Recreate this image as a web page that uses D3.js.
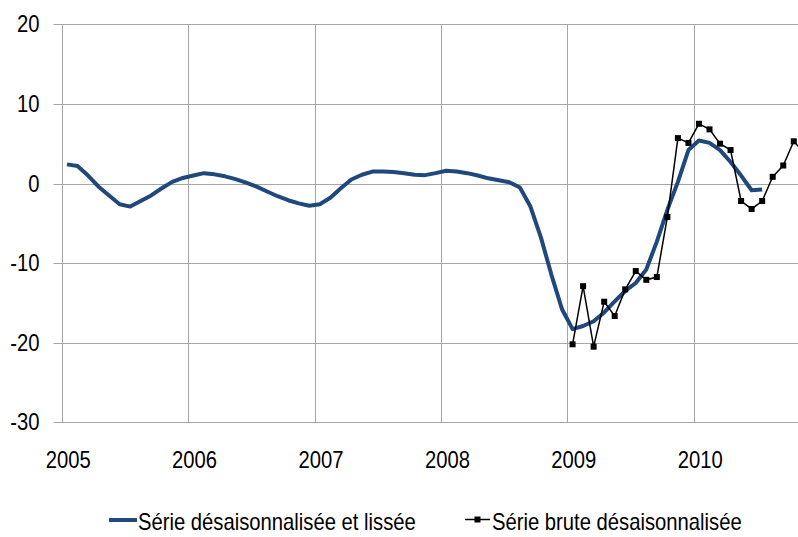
<!DOCTYPE html>
<html>
<head>
<meta charset="utf-8">
<title>Série désaisonnalisée</title>
<script src="https://d3js.org/d3.v7.min.js"></script>
<style>
  body { margin: 0; background: #fff; }
  text { font-family: "Liberation Sans Narrow", "Arial Narrow", "Liberation Sans", sans-serif; fill: #000; font-size: 23px; }
</style>
</head>
<body>
<div id="vis"></div>
<script>
// monthly values, starting january 2005
const startYear = 2005;
const smoothed = [
  2.4, 2.2, 1.0, -0.4, -1.5, -2.6, -2.9, -2.2, -1.5, -0.6, 0.2, 0.7,
  1.0, 1.3, 1.15, 0.9, 0.55, 0.1, -0.4, -1.0, -1.6, -2.1, -2.5, -2.8,
  -2.6, -1.8, -0.6, 0.5, 1.1, 1.5, 1.5, 1.45, 1.3, 1.1, 1.05, 1.3,
  1.6, 1.5, 1.3, 1.0, 0.65, 0.4, 0.15, -0.5, -2.9, -6.8, -11.5, -15.8,
  -18.3, -17.9, -17.3, -16.2, -14.8, -13.5, -12.5, -10.8, -7.3, -3.3, 0.2, 4.2,
  5.4, 5.1, 4.2, 2.7, 1.0, -0.85, -0.75
];
// raw series, starting january 2009
const rawStart = 48;
const raw = [
  -20.2, -12.9, -20.5, -14.85, -16.65, -13.3, -11.0, -12.1, -11.75, -4.2, 5.7, 5.1,
  7.5, 6.8, 5.0, 4.2, -2.2, -3.2, -2.2, 0.84, 2.26, 5.3, 3.8
];
const yTicks = [20, 10, 0, -10, -20, -30];
const years = [2005, 2006, 2007, 2008, 2009, 2010];
const legendLabels = ["Série désaisonnalisée et lissée", "Série brute désaisonnalisée"];

const W = 798, H = 537;
const blue = "#1f497d";
const grid = "#a6a6a6";
const squeeze = 0.88; // no narrow font installed, so squash the text a bit

const svg = d3.select("#vis").append("svg")
  .attr("width", W).attr("height", H);

const x = d3.scaleLinear().domain([2005, 2011]).range([61.7, 61.7 + 6 * 126.4]);
const y = d3.scaleLinear().domain([-30, 20]).range([422.3, 24.3]);
const monthX = k => x(startYear + (k + 0.5) / 12);
const place = (px, py) => `translate(${px},${py}) scale(${squeeze},1)`;

svg.append("clipPath").attr("id", "clip")
  .append("rect").attr("x", 0).attr("y", 0).attr("width", W).attr("height", H);

// horizontal gridlines + tick stubs
svg.selectAll("line.h")
  .data(yTicks)
  .join("line")
  .attr("class", "h")
  .attr("x1", 53.5).attr("x2", W)
  .attr("y1", d => Math.round(y(d)) + 0.5)
  .attr("y2", d => Math.round(y(d)) + 0.5)
  .attr("stroke", grid);

// vertical gridlines
svg.selectAll("line.v")
  .data(years)
  .join("line")
  .attr("class", "v")
  .attr("x1", d => Math.round(x(d)) + 0.5)
  .attr("x2", d => Math.round(x(d)) + 0.5)
  .attr("y1", y(20)).attr("y2", y(-30))
  .attr("stroke", grid);

// y labels
svg.selectAll("text.yl")
  .data(yTicks)
  .join("text")
  .attr("class", "yl")
  .attr("transform", d => place(39.5, y(d) + 8))
  .attr("text-anchor", "end")
  .text(d => d);

// year labels
svg.selectAll("text.xl")
  .data(years)
  .join("text")
  .attr("class", "xl")
  .attr("transform", d => place(x(d) + 6.5, 468))
  .attr("text-anchor", "middle")
  .text(d => d);

const plot = svg.append("g").attr("clip-path", "url(#clip)");

// smoothed series
plot.append("path")
  .datum(smoothed)
  .attr("fill", "none")
  .attr("stroke", blue)
  .attr("stroke-width", 4)
  .attr("stroke-linejoin", "round")
  .attr("d", d3.line().x((d, i) => monthX(i)).y(d => y(d)));

// raw series
plot.append("path")
  .datum(raw)
  .attr("fill", "none")
  .attr("stroke", "#000")
  .attr("stroke-width", 1.5)
  .attr("d", d3.line().x((d, i) => monthX(rawStart + i)).y(d => y(d)));

plot.selectAll("rect.m")
  .data(raw)
  .join("rect")
  .attr("class", "m")
  .attr("x", (d, i) => monthX(rawStart + i) - 3)
  .attr("y", d => y(d) - 3)
  .attr("width", 6).attr("height", 6)
  .attr("fill", "#000");

// legend
const lg = svg.append("g");
lg.append("line")
  .attr("x1", 109).attr("x2", 137).attr("y1", 520).attr("y2", 520)
  .attr("stroke", blue).attr("stroke-width", 4);
lg.append("text")
  .attr("transform", place(138, 530))
  .text(legendLabels[0]);
lg.append("line")
  .attr("x1", 465).attr("x2", 490).attr("y1", 519.5).attr("y2", 519.5)
  .attr("stroke", "#000").attr("stroke-width", 1.5);
lg.append("rect")
  .attr("x", 474.5).attr("y", 516.5).attr("width", 6).attr("height", 6)
  .attr("fill", "#000");
lg.append("text")
  .attr("transform", place(492, 530))
  .text(legendLabels[1]);
</script>
</body>
</html>
